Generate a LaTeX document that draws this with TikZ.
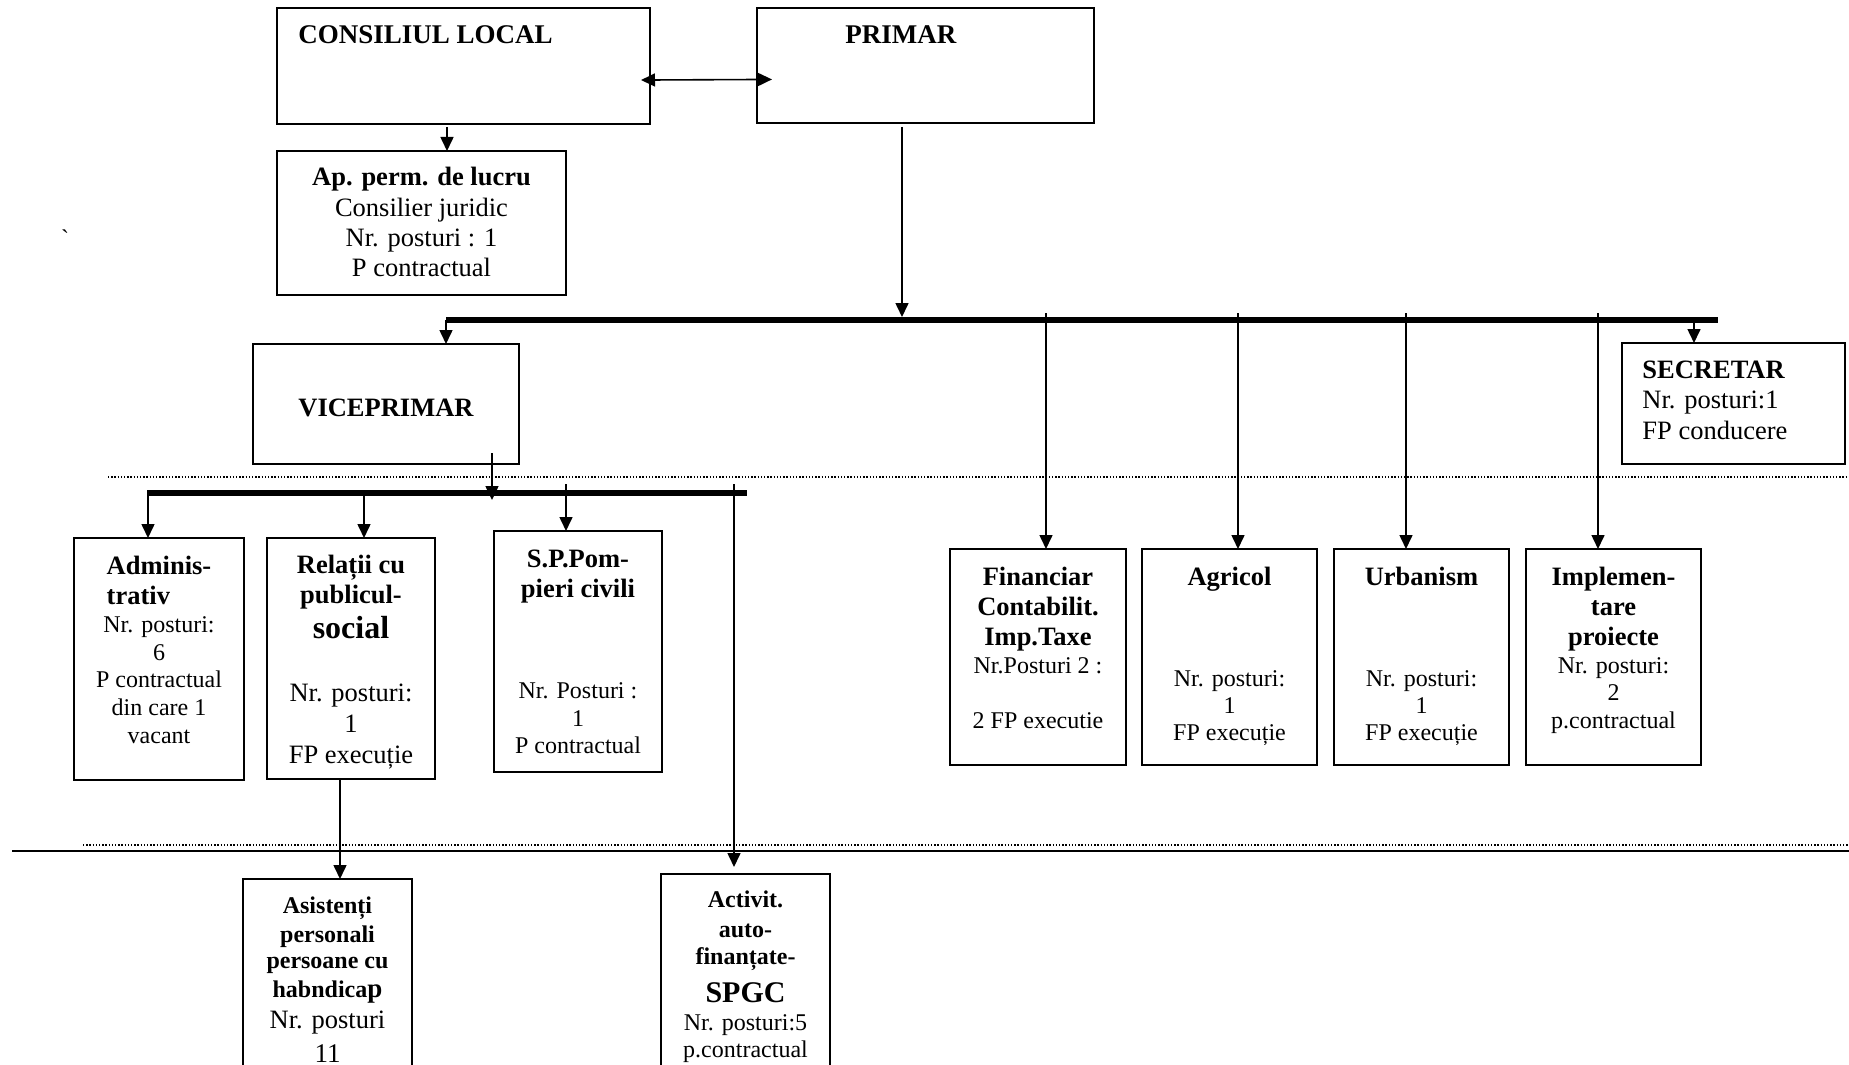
\documentclass[tikz,border=0pt]{standalone}
\usepackage{fontspec}
\setmainfont{Liberation Serif}
\usepackage{calc}
\usetikzlibrary{arrows.meta}
\begin{document}
\begin{tikzpicture}[x=0.5pt,y=-0.5pt,
  box/.style={draw, line width=1pt, rectangle, inner sep=0pt, outer sep=0pt, anchor=north west},
  tx/.style={inner sep=0pt, anchor=base},
  ht/.style={tx, font=\bfseries\fontsize{13.5}{15}\selectfont},
  hb/.style={tx, font=\bfseries\fontsize{13.25}{15}\selectfont},
  rl/.style={tx, font=\fontsize{13.25}{15}\selectfont},
  rs/.style={tx, font=\fontsize{12}{14}\selectfont},
  bs/.style={tx, font=\bfseries\fontsize{12}{14}\selectfont},
  bx/.style={tx, font=\bfseries\fontsize{16}{18}\selectfont},
  by/.style={tx, font=\bfseries\fontsize{15}{18}\selectfont},
  rx/.style={tx, font=\fontsize{13.5}{15}\selectfont},
  conn/.style={line width=0.8pt, -{Triangle[length=7pt,width=6.5pt]}},
  dconn/.style={line width=0.8pt, {Triangle[length=7pt,width=6.5pt]}-{Triangle[length=7pt,width=6.5pt]}},
  barline/.style={line width=3pt},
  dotline/.style={line width=0.7pt, dash pattern=on 0.7pt off 0.9pt},
  ruleline/.style={line width=1pt}
]
\clip (0,0) rectangle (1849,1065);
\fill[white] (0,0) rectangle (1849,1065);

% boxes
\node[box, minimum width=186.5pt, minimum height=58pt] (cl) at (277,8) {};
\node[box, minimum width=168.5pt, minimum height=57.5pt] (prim) at (757,8) {};
\node[box, minimum width=144.5pt, minimum height=72pt] (ap) at (277,151) {};
\node[box, minimum width=133pt, minimum height=60pt] (vice) at (253,344) {};
\node[box, minimum width=111.5pt, minimum height=60.5pt] (sec) at (1622,343) {};
\node[box, minimum width=85pt, minimum height=121pt] (adm) at (74,538) {};
\node[box, minimum width=84pt, minimum height=120.5pt] (rel) at (267,538) {};
\node[box, minimum width=84pt, minimum height=120.5pt] (sp) at (494,531) {};
\node[box, minimum width=88pt, minimum height=108pt] (fin) at (950,549) {};
\node[box, minimum width=87.5pt, minimum height=108pt] (agr) at (1142,549) {};
\node[box, minimum width=87.5pt, minimum height=108pt] (urb) at (1334,549) {};
\node[box, minimum width=87.5pt, minimum height=108pt] (impl) at (1526,549) {};
\node[box, minimum width=84.5pt, minimum height=100.5pt] (asist) at (243,879) {};
\node[box, minimum width=84.5pt, minimum height=103pt] (activ) at (661,874) {};

% helper coordinates
\coordinate (b1L) at (446,320);
\coordinate (b1R) at (1718,320);
\coordinate (t1) at (0,313);
\coordinate (pj) at (902,317);
\coordinate (b2L) at (147,493);
\coordinate (b2R) at (747,493);
\coordinate (t2) at (0,484);
\coordinate (d1a) at (108,477);
\coordinate (d1b) at (1849,477);
\coordinate (d2a) at (83,845);
\coordinate (d2b) at (1849,845);
\coordinate (s2a) at (12,851);
\coordinate (s2b) at (1849,851);

% separators
\draw[dotline] (d1a) -- (d1b);
\draw[dotline] (d2a) -- (d2b);
\draw[ruleline] (s2a) -- (s2b);

% connectors, top
\draw[dconn, shorten <=-4.5pt, shorten >=-7.5pt] ([yshift=-7pt]cl.east) -- ([yshift=-7pt]prim.west);
\draw[conn, shorten <=1.5pt] ([xshift=85pt]cl.south west) -- ([xshift=85pt]cl.south west |- ap.north);
\draw[barline] (b1L) -- (b1R);
\draw[conn, shorten <=2pt] ([xshift=72.5pt]prim.south west) -- (pj);
\draw[conn] (b1L) -- (b1L |- vice.north);
\draw[conn] ([xshift=36pt]sec.north west |- b1L) -- ([xshift=36pt]sec.north west);
\foreach \n/\d in {fin/4pt, agr/4.25pt, urb/-7.75pt, impl/-7.75pt}
  \draw[conn] ([xshift=\d]\n.north |- t1) -- ([xshift=\d]\n.north);

% connectors, viceprimar branch
\draw[conn] ([xshift=119.5pt,yshift=5.5pt]vice.south west) -- ([xshift=119.5pt,yshift=-18pt]vice.south west);
\draw[barline] (b2L) -- (b2R);
\draw[conn] ([xshift=-5.5pt]adm.north |- b2L) -- ([xshift=-5.5pt]adm.north);
\draw[conn] ([xshift=6.5pt]rel.north |- b2L) -- ([xshift=6.5pt]rel.north);
\draw[conn] ([xshift=-6pt]sp.north |- t2) -- ([xshift=-6pt]sp.north);
\draw[conn] ([xshift=-5.75pt]activ.north |- t2) -- ([xshift=-5.75pt,yshift=3.5pt]activ.north);
\draw[conn] ([xshift=-5.5pt]rel.south) -- ([xshift=-5.5pt]rel.south |- asist.north);

% texts
\node[ht, anchor=base west] (clt) at (298,44) {CONSILIUL LOCAL};
\node[ht, anchor=base west] (primt) at (845,44) {PRIMAR};
\node[hb] (vicet) at (386,416) {VICEPRIMAR};
\node[rs] (tick) at (65,247) {\textasciigrave};

\foreach \y/\sty/\lbl [count=\i] in {185/hb/Ap. perm. de lucru, 216.7/rl/Consilier juridic, 246.7/rl/Nr. posturi : 1, 276.7/rl/P contractual}
  {\node[\sty] (apt\i) at (421.5,\y) {\lbl};}

\foreach \y/\sty/\lbl [count=\i] in {378.3/hb/SECRETAR, 408.3/rl/Nr. posturi:1, 439.3/rl/FP conducere}
  {\node[\sty, anchor=base west] (sect\i) at (1642,\y) {\lbl};}

\foreach \y/\sty/\lbl [count=\i] in {574/hb/Adminis-, 632/rs/Nr. posturi:, 660/rs/6, 687/rs/P contractual, 715/rs/din care 1, 743/rs/vacant}
  {\node[\sty] (admt\i) at (159,\y) {\lbl};}
\node[hb, anchor=base west] (admtb) at (admt1.base west |- 0,604) {trativ};

\foreach \y/\sty/\lbl [count=\i] in {573/hb/Relații cu, 603/hb/publicul-, 638/bx/social, 701/rl/Nr. posturi:, 732/rl/1, 763/rl/FP execuție}
  {\node[\sty] (relt\i) at (351,\y) {\lbl};}

\foreach \y/\sty/\lbl [count=\i] in {567/hb/S.P.Pom-, 597/hb/pieri civili, 698/rs/Nr. Posturi :, 726/rs/1, 753/rs/P contractual}
  {\node[\sty] (spt\i) at (578,\y) {\lbl};}

\foreach \y/\sty/\lbl [count=\i] in {585/hb/Financiar, 615/hb/Contabilit., 645/hb/Imp.Taxe, 673/rs/Nr.Posturi 2 :, 728/rs/2 FP executie}
  {\node[\sty] (fint\i) at (1038,\y) {\lbl};}

\foreach \y/\sty/\lbl [count=\i] in {585/hb/Agricol, 686/rs/Nr. posturi:, 713/rs/1, 740/rs/FP execuție}
  {\node[\sty] (agrt\i) at (1229.5,\y) {\lbl};}

\foreach \y/\sty/\lbl [count=\i] in {585/hb/Urbanism, 686/rs/Nr. posturi:, 713/rs/1, 740/rs/FP execuție}
  {\node[\sty] (urbt\i) at (1421.5,\y) {\lbl};}

\foreach \y/\sty/\lbl [count=\i] in {585/hb/Implemen-, 615/hb/tare, 645/hb/proiecte, 673/rs/Nr. posturi:, 700/rs/2, 728/rs/p.contractual}
  {\node[\sty] (implt\i) at (1613.5,\y) {\lbl};}

\foreach \y/\sty/\lbl [count=\i] in {913/bs/Asistenți, 942/bs/personali, 968/bs/persoane cu, 1028/rl/Nr. posturi, 1062/rx/11}
  {\node[\sty] (ast\i) at (327.5,\y) {\lbl};}
\node[bs] (asth) at (327.5,997) {habndica{\fontsize{13.5}{15}\selectfont p}};

\foreach \y/\sty/\lbl [count=\i] in {907/bs/Activit., 937/bs/auto-, 964/bs/finanțate-, 1002/by/SPGC, 1030/rs/Nr. posturi:5, 1057/rs/p.contractual}
  {\node[\sty] (act\i) at (745.5,\y) {\lbl};}
\end{tikzpicture}
\end{document}
